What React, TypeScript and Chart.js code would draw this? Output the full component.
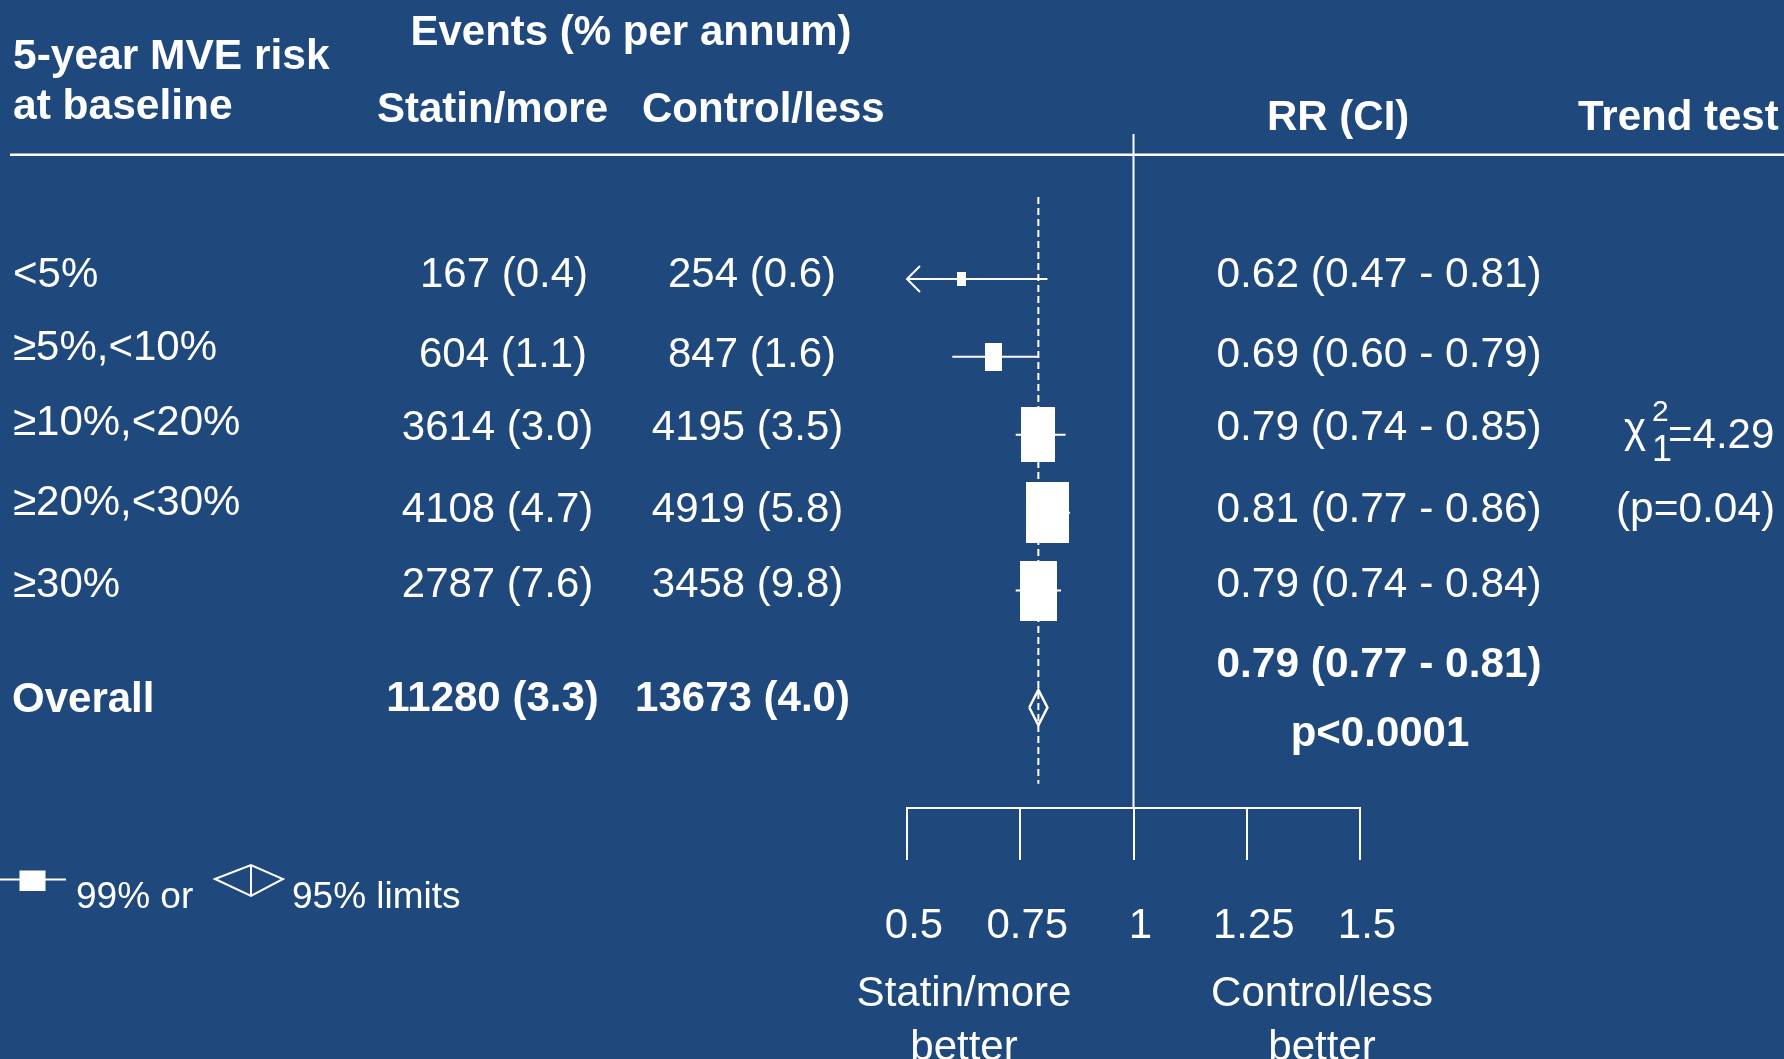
import React, { useEffect, useRef } from 'react';
import { Chart, registerables } from 'chart.js';

Chart.register(...registerables);

// ---- Data: MVE by 5-year baseline risk ----
const riskGroups = ['<5%', '≥5%,<10%', '≥10%,<20%', '≥20%,<30%', '≥30%'];
const statinEvents = [167, 604, 3614, 4108, 2787];
const statinRates = [0.4, 1.1, 3.0, 4.7, 7.6];
const controlEvents = [254, 847, 4195, 4919, 3458];
const controlRates = [0.6, 1.6, 3.5, 5.8, 9.8];
const rrValues = [0.62, 0.69, 0.79, 0.81, 0.79];
const ciLower = [0.47, 0.6, 0.74, 0.77, 0.74];
const ciUpper = [0.81, 0.79, 0.85, 0.86, 0.84];

// Overall result
const overallLabel = 'Overall';
const overallEvents = [11280, 13673];
const overallRates = [3.3, 4.0];
const overallRR = 0.79;
const overallLower = 0.77;
const overallUpper = 0.81;
const overallP = 'p<0.0001';

// Trend test
const trendChi2 = 4.29;
const trendDf = 1;
const trendP = 0.04;

// Axis
const axisTicks = [0.5, 0.75, 1, 1.25, 1.5];

// ---- Layout ----
const W = 1784;
const H = 1059;
const BG = '#1F497D';
const FG = '#ffffff';
const FONT = '"Liberation Sans", Arial, Helvetica, sans-serif';
const X_MIN = 0.5;
const X_MAX = 1.5;
const Y_MIN = -1.86;
const Y_MAX = 6.79;
const rowSlots = [0, 1, 2, 3, 4];
const overallSlot = 5.5;
const dashTop = -1.05;
const dashBottom = 6.48;
const diamondHalf = 0.228;
const boxWidthK = 4.74; // px per 1/ln(upper/lower)
const boxHeightK = 7.6;
const boxMaxHeight = 61;

const rowBaselines = [287, 367, 440, 522, 597];
const labelBaselines = [287, 360, 435, 515, 597];
const statinX = [504, 503, 497.5, 497.5, 497.5];
const controlX = [752, 752, 747.5, 747.5, 747.5];

function makeBox(lo: number, hi: number): HTMLCanvasElement {
  const spread = Math.log(hi / lo);
  const w = Math.max(2, Math.round(boxWidthK / spread));
  const h = Math.max(2, Math.round(Math.min(boxMaxHeight, boxHeightK / spread)));
  const c = document.createElement('canvas');
  c.width = w;
  c.height = h;
  const g = c.getContext('2d')!;
  g.fillStyle = FG;
  g.fillRect(0, 0, w, h);
  return c;
}

function drawText(
  ctx: CanvasRenderingContext2D,
  s: string,
  x: number,
  y: number,
  size: number,
  bold = false,
  align: CanvasTextAlign = 'left'
) {
  ctx.font = `${bold ? 'bold ' : ''}${size}px ${FONT}`;
  ctx.textAlign = align;
  ctx.textBaseline = 'alphabetic';
  ctx.fillStyle = FG;
  ctx.fillText(s, x, y);
}

const fmtEvents = (n: number, r: number) => `${n} (${r.toFixed(1)})`;
const fmtRR = (v: number, lo: number, hi: number) =>
  `${v.toFixed(2)} (${lo.toFixed(2)} - ${hi.toFixed(2)})`;

const backgroundPlugin = {
  id: 'bg',
  beforeDraw(chart: any) {
    const ctx = chart.ctx;
    ctx.save();
    ctx.fillStyle = BG;
    ctx.fillRect(0, 0, chart.width, chart.height);
    ctx.restore();
  },
};

const arrowPlugin = {
  id: 'truncArrow',
  afterDatasetsDraw(chart: any) {
    const ctx = chart.ctx;
    const xs = chart.scales.x;
    const ys = chart.scales.y;
    ctx.save();
    ctx.strokeStyle = FG;
    ctx.lineWidth = 2;
    ciLower.forEach((lo, i) => {
      if (lo >= X_MIN) return;
      const x0 = xs.getPixelForValue(X_MIN);
      const y = ys.getPixelForValue(rowSlots[i]);
      ctx.beginPath();
      ctx.moveTo(x0 + 13, y - 13);
      ctx.lineTo(x0, y);
      ctx.lineTo(x0 + 13, y + 13);
      ctx.stroke();
    });
    ctx.restore();
  },
};

const tablePlugin = {
  id: 'table',
  afterDraw(chart: any) {
    const ctx: CanvasRenderingContext2D = chart.ctx;
    ctx.save();

    // Column headers
    drawText(ctx, '5-year MVE risk', 13, 69, 42.5, true);
    drawText(ctx, 'at baseline', 13, 119, 42.5, true);
    drawText(ctx, 'Events (% per annum)', 631, 45, 42, true, 'center');
    drawText(ctx, 'Statin/more', 377, 122, 42, true);
    drawText(ctx, 'Control/less', 642, 122, 42, true);
    drawText(ctx, 'RR (CI)', 1267, 130, 42, true);
    drawText(ctx, 'Trend test', 1578, 130, 42, true);
    ctx.fillStyle = FG;
    ctx.fillRect(10, 153.5, W - 10, 2.5);

    // Rows
    riskGroups.forEach((g, i) => {
      drawText(ctx, g, 13, labelBaselines[i], 42);
      drawText(ctx, fmtEvents(statinEvents[i], statinRates[i]), statinX[i], rowBaselines[i], 42, false, 'center');
      drawText(ctx, fmtEvents(controlEvents[i], controlRates[i]), controlX[i], rowBaselines[i], 42, false, 'center');
      drawText(ctx, fmtRR(rrValues[i], ciLower[i], ciUpper[i]), 1216.5, rowBaselines[i], 42.4);
    });

    // Overall
    drawText(ctx, overallLabel, 12, 712, 42, true);
    drawText(ctx, fmtEvents(overallEvents[0], overallRates[0]), 492.5, 711, 42, true, 'center');
    drawText(ctx, fmtEvents(overallEvents[1], overallRates[1]), 742.5, 711, 42, true, 'center');
    drawText(ctx, fmtRR(overallRR, overallLower, overallUpper), 1216.5, 677, 42.4, true);
    drawText(ctx, overallP, 1380, 746, 42, true, 'center');

    // Trend test
    drawText(ctx, 'χ', 1624, 442, 42);
    drawText(ctx, '2', 1652, 421, 30);
    drawText(ctx, String(trendDf), 1652, 461, 36);
    drawText(ctx, `=${trendChi2.toFixed(2)}`, 1668, 448, 42);
    drawText(ctx, `(p=${trendP.toFixed(2)})`, 1616, 522, 42.4);

    // Axis direction labels
    drawText(ctx, 'Statin/more', 964, 1006, 42, false, 'center');
    drawText(ctx, 'better', 964, 1060, 42, false, 'center');
    drawText(ctx, 'Control/less', 1322, 1006, 42, false, 'center');
    drawText(ctx, 'better', 1322, 1060, 42, false, 'center');

    // Key
    ctx.strokeStyle = FG;
    ctx.lineWidth = 2;
    ctx.beginPath();
    ctx.moveTo(0, 879.5);
    ctx.lineTo(66, 879.5);
    ctx.stroke();
    ctx.fillStyle = FG;
    ctx.fillRect(19.5, 870.5, 26, 20.5);
    drawText(ctx, '99% or', 76, 908, 37);
    ctx.beginPath();
    ctx.moveTo(215, 879);
    ctx.lineTo(251, 865);
    ctx.lineTo(283, 879);
    ctx.lineTo(251, 896);
    ctx.closePath();
    ctx.moveTo(251, 865);
    ctx.lineTo(251, 896);
    ctx.stroke();
    drawText(ctx, '95% limits', 292, 908, 37);

    ctx.restore();
  },
};

export default function App() {
  const ref = useRef<HTMLCanvasElement | null>(null);

  useEffect(() => {
    const canvas = ref.current;
    if (!canvas) return;

    const line = { showLine: true, pointRadius: 0, borderColor: FG, backgroundColor: FG, fill: false };

    const boxes = {
      ...line,
      showLine: false,
      data: rrValues.map((v, i) => ({ x: v, y: rowSlots[i] })),
      pointStyle: rrValues.map((_, i) => makeBox(ciLower[i], ciUpper[i])),
      pointRadius: 5,
    };

    const diamond = {
      ...line,
      borderWidth: 2.5,
      data: [
        { x: overallLower, y: overallSlot },
        { x: overallRR, y: overallSlot - diamondHalf },
        { x: overallUpper, y: overallSlot },
        { x: overallRR, y: overallSlot + diamondHalf },
        { x: overallLower, y: overallSlot },
      ],
    };

    const whiskers = rrValues.map((_, i) => ({
      ...line,
      borderWidth: 2,
      data: [
        { x: Math.max(ciLower[i], X_MIN), y: rowSlots[i] },
        { x: ciUpper[i], y: rowSlots[i] },
      ],
    }));

    const overallRef = {
      ...line,
      borderWidth: 2,
      borderDash: [7, 4],
      data: [
        { x: overallRR, y: dashTop },
        { x: overallRR, y: dashBottom },
      ],
    };

    const noEffect = {
      ...line,
      borderWidth: 2,
      data: [
        { x: 1, y: Y_MIN },
        { x: 1, y: Y_MAX },
      ],
    };

    const chart = new Chart(canvas, {
      type: 'scatter',
      data: { datasets: [boxes, diamond, ...whiskers, overallRef, noEffect] as any },
      options: {
        responsive: false,
        animation: false,
        devicePixelRatio: 1,
        events: [],
        layout: { padding: { left: 907, right: W - 1360, top: 134, bottom: 0 } },
        plugins: { legend: { display: false }, tooltip: { enabled: false } },
        scales: {
          x: {
            type: 'linear',
            position: 'bottom',
            min: X_MIN,
            max: X_MAX,
            afterBuildTicks: (s: any) => {
              s.ticks = axisTicks.map((v) => ({ value: v }));
            },
            afterFit: (s: any) => {
              s.height = H - 808;
            },
            grid: { drawOnChartArea: false, drawTicks: true, tickLength: 52, color: FG, lineWidth: 2 },
            border: { display: true, color: FG, width: 2 },
            ticks: {
              color: FG,
              font: { family: FONT, size: 42 },
              padding: 41,
              maxRotation: 0,
              autoSkip: false,
              labelOffset: 7,
              callback: (v: any) => String(v),
            },
          },
          y: { type: 'linear', display: false, min: Y_MIN, max: Y_MAX, reverse: true },
        },
      } as any,
      plugins: [backgroundPlugin, arrowPlugin, tablePlugin],
    });

    return () => chart.destroy();
  }, []);

  return (
    <div style={{ position: 'absolute', left: 0, top: 0, width: W, height: H, background: BG }}>
      <canvas ref={ref} width={W} height={H} style={{ display: 'block', width: W, height: H }} />
    </div>
  );
}
